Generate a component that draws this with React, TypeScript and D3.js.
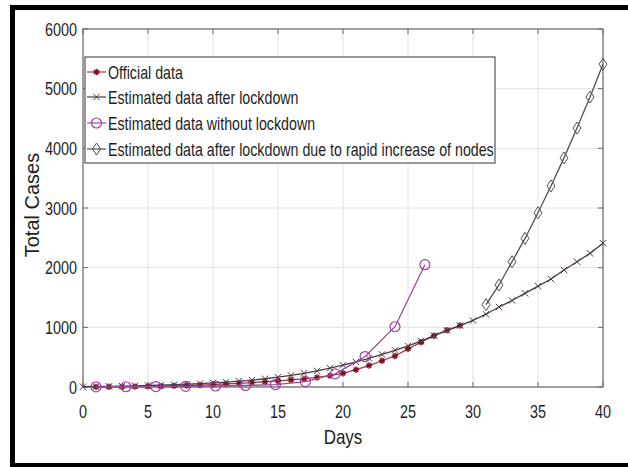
import React from "react";
import * as d3 from "d3";

const xTicks = [0, 5, 10, 15, 20, 25, 30, 35, 40];
const yTicks = [0, 1000, 2000, 3000, 4000, 5000, 6000];

const officialDays = [1,2,3,4,5,6,7,8,9,10,11,12,13,14,15,16,17,18,19,20,21,22,23,24,25,26,27,28,29];
const officialVals = [2,3,5,7,10,14,19,25,32,41,51,62,75,88,102,118,136,160,190,230,290,360,440,520,640,750,860,950,1030];

const estDays = [0,1,2,3,4,5,6,7,8,9,10,11,12,13,14,15,16,17,18,19,20,21,22,23,24,25,26,27,28,29,30,31,32,33,34,35,36,37,38,39,40];
const estVals = [5,8,11,15,20,25,31,38,46,56,68,82,98,116,138,165,195,230,270,315,365,420,480,545,615,690,770,860,950,1030,1115,1220,1340,1450,1570,1690,1810,1960,2100,2240,2410];

const noLockDays = [1,3.3,5.6,7.9,10.2,12.5,14.8,17.1,19.4,21.7,24.0,26.3];
const noLockVals = [2,4,7,11,17,25,40,90,220,510,1010,2050];

const rapidDays = [31,32,33,34,35,36,37,38,39,40];
const rapidVals = [1380,1710,2100,2490,2920,3370,3840,4340,4860,5410];

const legendLabels = [
  "Official data",
  "Estimated data after lockdown",
  "Estimated data without lockdown",
  "Estimated data after lockdown due to rapid increase of nodes",
];

const W = 628, H = 467;
const L = 83, R = 603, T = 29, B = 387;
const FONT = "'Liberation Sans', Arial, sans-serif";

const x = d3.scaleLinear().domain([0, 40]).range([L, R]);
const y = d3.scaleLinear().domain([0, 6000]).range([B, T]);

type P = [number, number];
const zip = (a: number[], b: number[]): P[] => a.map((v, i) => [v, b[i]]);

function NText({ x, y, size, sx, anchor, children }: any) {
  return (
    <text
      transform={`translate(${x},${y}) scale(${sx},1)`}
      textAnchor={anchor || "start"}
      fontFamily={FONT}
      fontSize={size}
      fill="#1e1e1e"
    >
      {children}
    </text>
  );
}

function Marker({ kind, cx, cy, color }: { kind: string; cx: number; cy: number; color: string }) {
  if (kind === "star") {
    const s = 3.2;
    return (
      <g stroke={color} strokeWidth={1.4}>
        <line x1={cx - s} y1={cy} x2={cx + s} y2={cy} />
        <line x1={cx} y1={cy - s} x2={cx} y2={cy + s} />
        <line x1={cx - s * 0.7} y1={cy - s * 0.7} x2={cx + s * 0.7} y2={cy + s * 0.7} />
        <line x1={cx - s * 0.7} y1={cy + s * 0.7} x2={cx + s * 0.7} y2={cy - s * 0.7} />
      </g>
    );
  }
  if (kind === "x") {
    const s = 3.2;
    return (
      <g stroke={color} strokeWidth={1}>
        <line x1={cx - s} y1={cy - s} x2={cx + s} y2={cy + s} />
        <line x1={cx - s} y1={cy + s} x2={cx + s} y2={cy - s} />
      </g>
    );
  }
  if (kind === "circle") {
    return <circle cx={cx} cy={cy} r={5} fill="none" stroke={color} strokeWidth={1.2} />;
  }
  return (
    <path
      d={`M${cx},${cy - 6}L${cx + 4},${cy}L${cx},${cy + 6}L${cx - 4},${cy}Z`}
      fill="none"
      stroke={color}
      strokeWidth={1}
    />
  );
}

const series = [
  { pts: zip(officialDays, officialVals), kind: "star", line: "#9a3a50", mark: "#7d0a1a" },
  { pts: zip(estDays, estVals), kind: "x", line: "#4a3a44", mark: "#4a3a44" },
  { pts: zip(noLockDays, noLockVals), kind: "circle", line: "#9a4a9a", mark: "#a0409a" },
  { pts: zip(rapidDays, rapidVals), kind: "diamond", line: "#505050", mark: "#505050" },
];

export default function App() {
  const line = d3.line<P>().x((d) => x(d[0])).y((d) => y(d[1]));
  const legY = [72, 97, 123, 149];
  return (
    <svg width={W} height={H} style={{ position: "absolute", left: 0, top: 0, background: "#fff" }}>
      <rect x={0} y={0} width={W} height={H} fill="#fff" />
      {/* grid */}
      {xTicks.map((t) => (
        <line key={"gx" + t} x1={x(t)} x2={x(t)} y1={T} y2={B} stroke="#e2e2e2" strokeWidth={1} />
      ))}
      {yTicks.map((t) => (
        <line key={"gy" + t} x1={L} x2={R} y1={y(t)} y2={y(t)} stroke="#e2e2e2" strokeWidth={1} />
      ))}
      {/* ticks */}
      {xTicks.map((t) => (
        <g key={"tx" + t} stroke="#666">
          <line x1={x(t)} x2={x(t)} y1={B} y2={B - 5} />
          <line x1={x(t)} x2={x(t)} y1={T} y2={T + 5} />
        </g>
      ))}
      {yTicks.map((t) => (
        <g key={"ty" + t} stroke="#666">
          <line x1={L} x2={L + 5} y1={y(t)} y2={y(t)} />
          <line x1={R} x2={R - 5} y1={y(t)} y2={y(t)} />
        </g>
      ))}
      <rect x={L} y={T} width={R - L} height={B - T} fill="none" stroke="#6a6a6a" strokeWidth={1.2} />
      {/* series */}
      {series.map((s, i) => (
        <g key={"s" + i}>
          <path d={line(s.pts) || ""} fill="none" stroke={s.line} strokeWidth={1.3} />
          {s.pts.map((p, j) => (
            <Marker key={j} kind={s.kind} cx={x(p[0])} cy={y(p[1])} color={s.mark} />
          ))}
        </g>
      ))}
      {/* tick labels */}
      {xTicks.map((t) => (
        <NText key={"lx" + t} x={x(t)} y={418} size={18} sx={0.8} anchor="middle">
          {t}
        </NText>
      ))}
      {yTicks.map((t) => (
        <NText key={"ly" + t} x={77} y={y(t) + 6.5} size={18} sx={0.8} anchor="end">
          {t}
        </NText>
      ))}
      <NText x={343} y={444} size={20} sx={0.85} anchor="middle">
        Days
      </NText>
      <text
        transform="translate(39,205) rotate(-90)"
        textAnchor="middle"
        fontFamily={FONT}
        fontSize={20}
        fill="#1e1e1e"
      >
        Total Cases
      </text>
      {/* legend */}
      <rect x={85} y={57} width={410} height={106} fill="#fff" stroke="#555" strokeWidth={1.2} />
      {series.map((s, i) => (
        <g key={"lg" + i}>
          <line x1={87} x2={106} y1={legY[i]} y2={legY[i]} stroke={s.line} strokeWidth={1.2} />
          <Marker kind={s.kind} cx={96.5} cy={legY[i]} color={s.mark} />
          <NText x={108} y={legY[i] + 6.5} size={18} sx={0.79}>
            {legendLabels[i]}
          </NText>
        </g>
      ))}
      {/* outer frame */}
      <line x1={12.5} x2={12.5} y1={5} y2={467} stroke="#000" strokeWidth={5} />
      <line x1={10} x2={628} y1={7.5} y2={7.5} stroke="#000" strokeWidth={5} />
      <line x1={10} x2={628} y1={465} y2={465} stroke="#000" strokeWidth={4} />
    </svg>
  );
}
